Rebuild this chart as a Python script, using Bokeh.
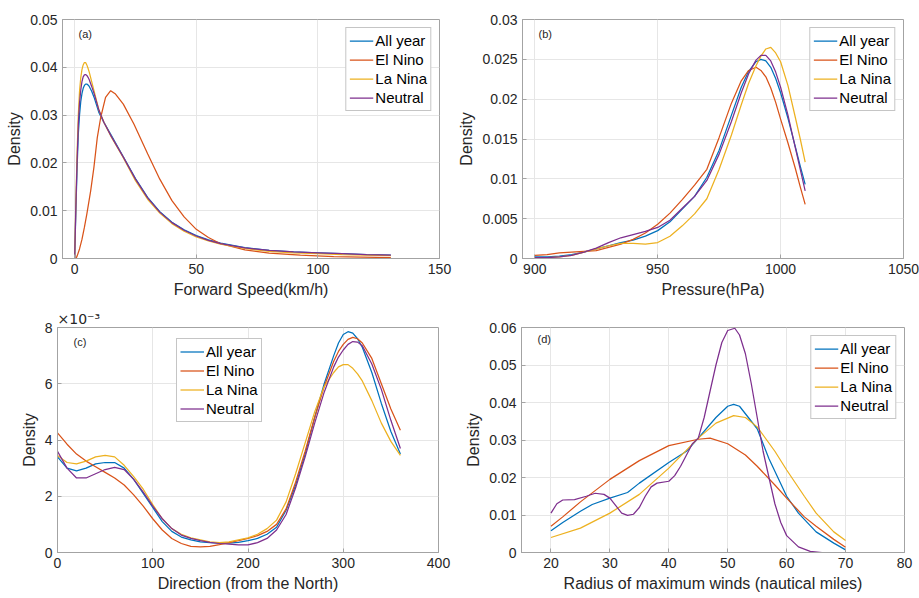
from bokeh.plotting import figure
from bokeh.layouts import column, row
from bokeh.models import Label, FixedTicker, Range1d
from bokeh.embed import file_html
from bokeh.resources import INLINE

FONT = "Liberation Sans"
SERIES = ["All year", "El Nino", "La Nina", "Neutral"]
COLORS = ["#0072BD", "#D95319", "#EDB120", "#7E2F8E"]

# ---------------- (a) Forward speed ----------------
a_all_x = [0, 0.5, 1, 1.5, 2, 2.5, 3, 3.5, 4, 4.5, 5, 5.5, 6, 7, 8, 10, 12, 15, 20, 25, 30, 35, 40, 45, 50, 55, 60, 70,
           80, 90, 100, 110, 120, 130]
a_all_y = [0, 0.010, 0.019, 0.026, 0.030, 0.0328, 0.0345, 0.0356, 0.0362, 0.0365, 0.0365, 0.0363, 0.0360, 0.0350, 0.0337,
           0.0305, 0.0285, 0.0258, 0.0213, 0.0167, 0.0128, 0.0098, 0.0076, 0.0060, 0.0048, 0.0039, 0.0032, 0.0023, 0.0017,
           0.0014, 0.0012, 0.0010, 0.0008, 0.0007]
a_nino_x = [0.5, 1, 2, 3, 4, 5, 6.6, 7.9, 9.3, 10.7, 12.7, 14.8, 16.8, 20, 24.4, 30, 35, 40, 45, 50, 55, 60, 70, 80, 92.8,
            106.5, 130]
a_nino_y = [0, 0.0005, 0.002, 0.004, 0.0065, 0.0093, 0.0142, 0.019, 0.0253, 0.0295, 0.0337, 0.0351, 0.0344, 0.0323, 0.0281,
            0.0219, 0.0166, 0.0121, 0.0087, 0.0061, 0.0044, 0.0031, 0.0018, 0.0011, 0.0007, 0.0004, 0.0002]
a_nina_x = [0, 0.5, 1, 1.5, 2, 2.5, 3, 3.5, 4, 4.5, 5, 5.5, 6, 7, 8, 10, 12, 15, 20, 25, 30, 35, 40, 45, 50, 55, 60, 70,
            80, 90, 100, 110, 120, 130]
a_nina_y = [0, 0.012, 0.022, 0.030, 0.035, 0.0378, 0.0395, 0.0405, 0.0410, 0.0410, 0.0405, 0.0398, 0.0390, 0.0370, 0.0350,
            0.0310, 0.0285, 0.0255, 0.0211, 0.0163, 0.0124, 0.0095, 0.0073, 0.0057, 0.0045, 0.0037, 0.0030, 0.0021, 0.0015,
            0.0012, 0.0010, 0.0008, 0.0007, 0.0006]
a_neut_x = [0, 0.5, 1, 1.5, 2, 2.5, 3, 3.5, 4, 4.5, 5, 5.5, 6, 7, 8, 10, 12, 15, 20, 25, 30, 35, 40, 45, 50, 55, 60, 70,
            80, 90, 100, 110, 120, 130]
a_neut_y = [0, 0.011, 0.0205, 0.028, 0.0325, 0.0352, 0.0370, 0.0380, 0.0384, 0.0385, 0.0383, 0.0379, 0.0374, 0.0360, 0.0345,
            0.0310, 0.0285, 0.0256, 0.0212, 0.0166, 0.0127, 0.0097, 0.0075, 0.0059, 0.0047, 0.0038, 0.0031, 0.0022, 0.0017,
            0.0014, 0.0012, 0.0010, 0.0008, 0.0007]
a_xticks = [0, 50, 100, 150]
a_yticks = [0, 0.01, 0.02, 0.03, 0.04, 0.05]
a_ylabels = ["0", "0.01", "0.02", "0.03", "0.04", "0.05"]

# ---------------- (b) Pressure ----------------
b_x = [900, 905, 910, 915, 920, 925, 930, 935, 940, 945, 950, 955, 960, 965, 970, 975, 980, 984, 987, 990, 992, 994, 996, 998,
       1000, 1003, 1006, 1008, 1010]
b_all_y = [0.0002, 0.0002, 0.0003, 0.0005, 0.0008, 0.0012, 0.0016, 0.0020, 0.0023, 0.0028, 0.0035, 0.0046, 0.0062, 0.0078,
           0.0102, 0.0136, 0.0180, 0.0215, 0.0235, 0.0247, 0.0250, 0.0248, 0.0240, 0.0226, 0.0208, 0.0176, 0.0140, 0.0116, 0.0093]
b_nino_y = [0.0004, 0.0005, 0.0007, 0.0008, 0.0009, 0.0010, 0.0014, 0.0018, 0.0024, 0.0032, 0.0043, 0.0057, 0.0074, 0.0092,
            0.0112, 0.0152, 0.0195, 0.0223, 0.0236, 0.0240, 0.0236, 0.0228, 0.0214, 0.0196, 0.0175, 0.0145, 0.0113, 0.0090, 0.0068]
b_nina_y = [0.0001, 0.0001, 0.0002, 0.0004, 0.0008, 0.0012, 0.0016, 0.0019, 0.0019, 0.0018, 0.0020, 0.0028, 0.0041, 0.0056,
            0.0075, 0.0112, 0.0155, 0.0193, 0.0220, 0.0242, 0.0254, 0.0263, 0.0265, 0.0258, 0.0247, 0.0217, 0.0177, 0.0150, 0.0121]
b_neut_y = [0.0001, 0.0001, 0.0002, 0.0004, 0.0008, 0.0013, 0.0020, 0.0026, 0.0030, 0.0034, 0.0039, 0.0048, 0.0063, 0.0078,
            0.0098, 0.0131, 0.0172, 0.0208, 0.0232, 0.0249, 0.0255, 0.0255, 0.0248, 0.0234, 0.0215, 0.0180, 0.0139, 0.0112, 0.0085]
b_xticks = [900, 950, 1000, 1050]
b_yticks = [0, 0.005, 0.01, 0.015, 0.02, 0.025, 0.03]
b_ylabels = ["0", "0.005", "0.01", "0.015", "0.02", "0.025", "0.03"]

# ---------------- (c) Direction (density in units of 1e-3) ----------------
c_x = [0, 10, 20, 30, 40, 50, 60, 70, 80, 90, 100, 110, 120, 130, 140, 150, 160, 170, 180, 190, 200, 210, 220, 230, 240,
       250, 260, 270, 280, 290, 295, 300, 305, 310, 315, 320, 330, 340, 350, 360]
c_all_y = [3.4, 3.0, 2.9, 3.0, 3.15, 3.2, 3.2, 3.0, 2.6, 2.1, 1.6, 1.1, 0.75, 0.55, 0.45, 0.38, 0.35, 0.33, 0.33, 0.36, 0.42,
           0.5, 0.65, 0.9, 1.5, 2.4, 3.5, 4.8, 6.0, 7.0, 7.45, 7.75, 7.85, 7.8, 7.6, 7.3, 6.4, 5.3, 4.3, 3.5]
c_nino_y = [4.25, 3.85, 3.5, 3.25, 3.05, 2.85, 2.65, 2.4, 2.05, 1.65, 1.2, 0.8, 0.5, 0.32, 0.22, 0.2, 0.22, 0.28, 0.35, 0.42,
            0.5, 0.6, 0.75, 1.0, 1.55, 2.5, 3.6, 4.8, 5.9, 6.8, 7.15, 7.4, 7.58, 7.65, 7.6, 7.45, 6.9, 6.0, 5.1, 4.35]
c_nina_y = [3.45, 3.2, 3.15, 3.25, 3.4, 3.45, 3.4, 3.1, 2.7, 2.25, 1.7, 1.2, 0.85, 0.65, 0.52, 0.45, 0.38, 0.35, 0.38, 0.45,
            0.52, 0.65, 0.85, 1.15, 1.8, 2.8, 3.9, 5.0, 5.9, 6.4, 6.6, 6.68, 6.68, 6.55, 6.35, 6.1, 5.4, 4.6, 3.95, 3.45]
c_neut_y = [3.6, 3.0, 2.65, 2.65, 2.8, 2.95, 3.03, 2.95, 2.6, 2.15, 1.65, 1.2, 0.85, 0.62, 0.5, 0.42, 0.36, 0.32, 0.3, 0.27,
            0.27, 0.35, 0.5, 0.8, 1.35, 2.3, 3.4, 4.6, 5.7, 6.6, 6.95, 7.2, 7.4, 7.5, 7.48, 7.35, 6.7, 5.8, 4.7, 3.7]
c_xticks = [0, 100, 200, 300, 400]
c_yticks = [0, 2, 4, 6, 8]
c_ylabels = ["0", "2", "4", "6", "8"]

# ---------------- (d) Radius of maximum winds ----------------
d_x = [20, 22, 25, 27, 30, 33, 35, 40, 43, 45, 48, 50, 51, 52, 55, 57, 60, 62, 65, 68, 70]
d_all_y = [0.0058, 0.008, 0.011, 0.0128, 0.0145, 0.016, 0.0185, 0.024, 0.027, 0.0305, 0.036, 0.039, 0.0395, 0.039, 0.033,
           0.025, 0.015, 0.0105, 0.0055, 0.0025, 0.0007]
d_nino_x = [20, 22, 25, 30, 35, 40, 45, 47, 50, 53, 55, 58, 60, 63, 65, 68, 70]
d_nino_y = [0.007, 0.0095, 0.0135, 0.0195, 0.0245, 0.0285, 0.0302, 0.0305, 0.029, 0.026, 0.023, 0.018, 0.0145, 0.0095,
            0.007, 0.0035, 0.0014]
d_nina_x = [20, 25, 30, 35, 40, 45, 48, 51, 53, 55, 58, 60, 63, 65, 68, 70]
d_nina_y = [0.004, 0.0065, 0.0105, 0.0155, 0.0225, 0.0305, 0.0345, 0.0365, 0.036, 0.0335, 0.027, 0.022, 0.015, 0.0105,
            0.0055, 0.0032]
d_neut_x = [20, 21, 22, 24, 26, 27.5, 29, 30, 31, 32, 33, 34, 35, 36, 37, 38, 40, 41, 42, 43, 44, 45, 46, 47, 48, 49, 50,
            51.2, 52, 53, 54, 55, 56, 57, 58, 59, 60, 62, 64, 66, 70]
d_neut_y = [0.0105, 0.013, 0.014, 0.0141, 0.015, 0.0158, 0.0155, 0.0145, 0.0125, 0.0105, 0.0099, 0.0102, 0.012, 0.015,
            0.0175, 0.0185, 0.019, 0.0205, 0.023, 0.026, 0.029, 0.0305, 0.036, 0.043, 0.050, 0.056, 0.0592, 0.0598, 0.058,
            0.053, 0.045, 0.036, 0.027, 0.020, 0.013, 0.008, 0.0045, 0.0015, 0.0003, 0.0, 0.0]
d_xticks = [20, 30, 40, 50, 60, 70, 80]
d_yticks = [0, 0.01, 0.02, 0.03, 0.04, 0.05, 0.06]
d_ylabels = ["0", "0.01", "0.02", "0.03", "0.04", "0.05", "0.06"]

AXIS_COLOR = "#a3a3a3"
TEXT_COLOR = "#262626"


def make_panel(width, height, borders, xr, yr, xticks, yticks, ylabels, xlabel, tag, lines, legend_loc, title=None):
    left, right, top, bottom = borders
    p = figure(width=width, height=height, output_backend="svg", toolbar_location=None,
               x_range=Range1d(*xr), y_range=Range1d(*yr), title=title,
               min_border_left=left, min_border_right=right, min_border_top=top, min_border_bottom=bottom)
    p.background_fill_color = "white"
    p.border_fill_color = "white"
    p.outline_line_color = AXIS_COLOR
    p.xaxis.ticker = FixedTicker(ticks=xticks)
    p.yaxis.ticker = FixedTicker(ticks=yticks)
    p.yaxis.major_label_overrides = {t: s for t, s in zip(yticks, ylabels)}
    p.xaxis.axis_label = xlabel
    p.yaxis.axis_label = "Density"
    for ax in list(p.xaxis) + list(p.yaxis):
        ax.major_tick_in = 4
        ax.major_tick_out = 0
        ax.minor_tick_in = 0
        ax.minor_tick_out = 0
        ax.axis_line_color = AXIS_COLOR
        ax.major_tick_line_color = AXIS_COLOR
        ax.major_label_text_font = FONT
        ax.major_label_text_font_size = "14px"
        ax.major_label_text_color = TEXT_COLOR
        ax.axis_label_text_font = FONT
        ax.axis_label_text_font_size = "16px"
        ax.axis_label_text_font_style = "normal"
        ax.axis_label_text_color = TEXT_COLOR
        ax.major_label_standoff = 5
        ax.axis_label_standoff = 4
    p.xgrid.ticker = FixedTicker(ticks=xticks)
    p.ygrid.ticker = FixedTicker(ticks=yticks)
    p.grid.grid_line_color = "#e6e6e6"
    p.grid.grid_line_width = 1

    for (xs, ys), name, color in zip(lines, SERIES, COLORS):
        p.line(xs, ys, line_color=color, line_width=1.25, legend_label=name)

    lg = p.legend[0]
    lg.location = legend_loc
    lg.margin = 8
    lg.padding = 3
    lg.spacing = 0
    lg.label_height = 19
    lg.glyph_height = 19
    lg.glyph_width = 24
    lg.label_standoff = 2
    lg.label_text_font = FONT
    lg.label_text_font_size = "15px"
    lg.label_text_color = "#000000"
    lg.border_line_color = "#8c8c8c"
    lg.border_line_width = 1
    lg.background_fill_color = "white"
    lg.background_fill_alpha = 1.0

    if title is not None:
        p.title.align = "left"
        p.title.text_font = "DejaVu Sans"
        p.title.text_font_size = "14px"
        p.title.text_font_style = "normal"
        p.title.text_color = TEXT_COLOR
        p.title.standoff = 1
        p.title.offset = 0

    fh = height - top - bottom
    p.add_layout(Label(x=16, y=fh - 8, x_units="screen", y_units="screen", text=tag, text_baseline="top",
                       text_font=FONT, text_font_size="11px", text_color=TEXT_COLOR))
    return p


pa = make_panel(455, 300, (62, 16, 19, 42), (-5, 150), (0, 0.05), a_xticks, a_yticks, a_ylabels,
                "Forward Speed(km/h)", "(a)",
                [(a_all_x, a_all_y), (a_nino_x, a_nino_y), (a_nina_x, a_nina_y), (a_neut_x, a_neut_y)],
                "top_right")
pb = make_panel(464, 300, (63, 16, 19, 42), (895, 1050), (0, 0.03), b_xticks, b_yticks, b_ylabels,
                "Pressure(hPa)", "(b)",
                [(b_x, b_all_y), (b_x, b_nino_y), (b_x, b_nina_y), (b_x, b_neut_y)],
                "top_right")
pc = make_panel(455, 298, (57, 17, 27, 46), (0, 400), (0, 8), c_xticks, c_yticks, c_ylabels,
                "Direction (from the North)", "(c)",
                [(c_x, c_all_y), (c_x, c_nino_y), (c_x, c_nina_y), (c_x, c_neut_y)],
                (119, 130), title="\u00d710\u207b\u00b3")
pd = make_panel(464, 298, (66, 15, 27, 43), (15, 80), (0, 0.06), d_xticks, d_yticks, d_ylabels,
                "Radius of maximum winds (nautical miles)", "(d)",
                [(d_x, d_all_y), (d_nino_x, d_nino_y), (d_nina_x, d_nina_y), (d_neut_x, d_neut_y)],
                "top_right")

layout = column(row(pa, pb, spacing=0), row(pc, pd, spacing=0), spacing=0)
open("out.html", "w").write(file_html(layout, INLINE))
